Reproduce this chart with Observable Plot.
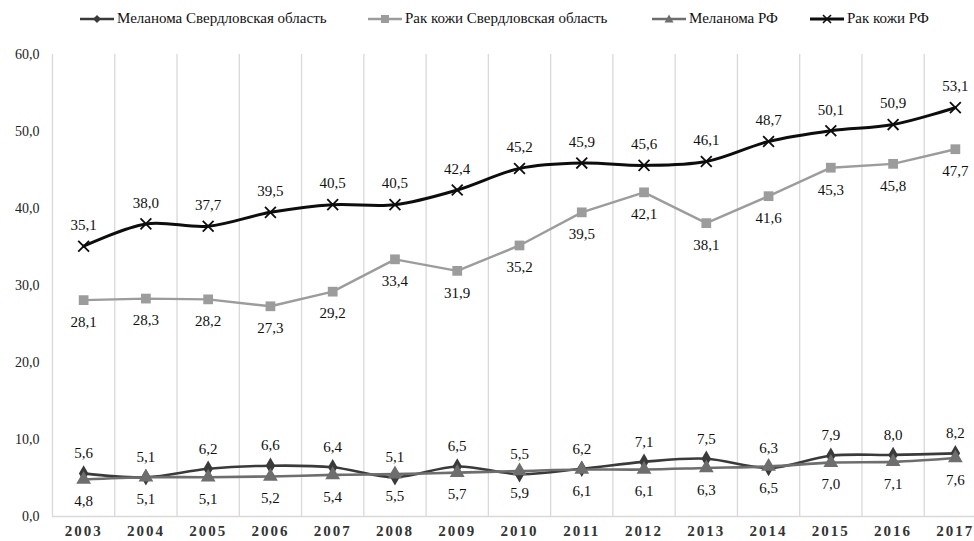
<!DOCTYPE html>
<html>
<head>
<meta charset="utf-8">
<script src="https://cdn.jsdelivr.net/npm/d3@7"></script>
<script src="https://cdn.jsdelivr.net/npm/@observablehq/plot@0.6"></script>
<style>
  html, body { margin: 0; padding: 0; background: #fff; overflow: hidden; }
  #wrap { position: relative; width: 974px; height: 541px; font-family: "Liberation Serif", "Times New Roman", "DejaVu Serif", serif; }
  #legend { position: relative; width: 974px; height: 40px; }
  .item { position: absolute; top: 10px; display: flex; align-items: center; font-family: "Liberation Serif", "Times New Roman", serif; font-size: 15px; color: #111; white-space: nowrap; }
  .item svg { margin-right: 3px; }
  #chart svg text { font-family: "Liberation Serif", "Times New Roman", serif; }
  #chart svg g[aria-label="x-axis tick label"] text { letter-spacing: 2px; }
</style>
</head>
<body>
<div id="wrap">
  <div id="legend"></div>
  <div id="chart"></div>
</div>
<script>
const years = [2003, 2004, 2005, 2006, 2007, 2008, 2009, 2010, 2011, 2012, 2013, 2014, 2015, 2016, 2017];
const melanomaSO = [5.6, 5.1, 6.2, 6.6, 6.4, 5.1, 6.5, 5.5, 6.2, 7.1, 7.5, 6.3, 7.9, 8.0, 8.2];
const skinSO = [28.1, 28.3, 28.2, 27.3, 29.2, 33.4, 31.9, 35.2, 39.5, 42.1, 38.1, 41.6, 45.3, 45.8, 47.7];
const melanomaRF = [4.8, 5.1, 5.1, 5.2, 5.4, 5.5, 5.7, 5.9, 6.1, 6.1, 6.3, 6.5, 7.0, 7.1, 7.6];
const skinRF = [35.1, 38.0, 37.7, 39.5, 40.5, 40.5, 42.4, 45.2, 45.9, 45.6, 46.1, 48.7, 50.1, 50.9, 53.1];
const yTicks = [0, 10, 20, 30, 40, 50, 60];
const seriesNames = ["Меланома Свердловская область", "Рак кожи Свердловская область", "Меланома РФ", "Рак кожи РФ"];

const fmt = d => d.toFixed(1).replace(".", ",");

const series = [
  {name: seriesNames[0], values: melanomaSO, color: "#3a3a3a", width: 2.6, symbol: "diamond", r: 5, fill: true, curve: "catmull-rom", dy: -20},
  {name: seriesNames[1], values: skinSO, color: "#9c9c9c", width: 2.4, symbol: "square", r: 5.5, fill: true, curve: "linear", dy: 22},
  {name: seriesNames[2], values: melanomaRF, color: "#6e6e6e", width: 2.6, symbol: "triangle", r: 5.5, fill: true, curve: "catmull-rom", dy: 22},
  {name: seriesNames[3], values: skinRF, color: "#0d0d0d", width: 3, symbol: "times", r: 5, fill: false, curve: "catmull-rom", dy: -21}
];

// Legend
const legend = document.getElementById("legend");
const legendLeft = [80, 368, 652, 810];
const legendMarker = {
  diamond: c => `<path d="M17,3 L21,7 L17,11 L13,7 Z" fill="${c}"/>`,
  square: c => `<rect x="13" y="3" width="8" height="8" fill="${c}"/>`,
  triangle: c => `<path d="M17,2.5 L21.5,10.5 L12.5,10.5 Z" fill="${c}"/>`,
  times: c => `<path d="M13,3 L21,11 M21,3 L13,11" stroke="${c}" stroke-width="1.6"/>`
};
series.forEach((s, i) => {
  const div = document.createElement("div");
  div.className = "item";
  div.style.left = legendLeft[i] + "px";
  div.innerHTML = `<svg width="34" height="14"><line x1="0" x2="34" y1="7" y2="7" stroke="${s.color}" stroke-width="${s.width}"/>${legendMarker[s.symbol](s.color)}</svg><span>${s.name}</span>`;
  legend.appendChild(div);
});

const rows = series.map(s => years.map((year, i) => ({year, value: s.values[i]})));
const boundaries = years.map(y => y - 0.5).concat([years[years.length - 1] + 0.5]);

const marks = [
  Plot.ruleX(boundaries, {x: d => d, y1: 0, y2: 60, stroke: "#d9d9d9", strokeWidth: 1.3}),
  Plot.ruleY([0], {stroke: "#d9d9d9", strokeWidth: 1.3}),
  Plot.axisY(yTicks, {tickSize: 0, tickPadding: 13, tickFormat: fmt, fontSize: 14, fill: "#222", label: null}),
  Plot.axisX(years, {tickSize: 0, tickPadding: 9, tickFormat: d => String(d), fontSize: 15, fontWeight: "bold", fill: "#333", label: null})
];
series.forEach((s, i) => {
  marks.push(Plot.line(rows[i], {x: "year", y: "value", stroke: s.color, strokeWidth: s.width, curve: s.curve}));
});
series.forEach((s, i) => {
  if (s.fill) {
    marks.push(Plot.dot(rows[i], {x: "year", y: "value", symbol: s.symbol, r: s.r, fill: s.color, stroke: "none"}));
  } else {
    marks.push(Plot.dot(rows[i], {x: "year", y: "value", symbol: s.symbol, r: s.r, stroke: s.color, strokeWidth: 1.8}));
  }
  marks.push(Plot.text(rows[i], {x: "year", y: "value", text: d => fmt(d.value), dy: s.dy, fontSize: 15, fill: "#111"}));
});

const chart = Plot.plot({
  width: 974,
  height: 501,
  marginTop: 14,
  marginBottom: 25,
  marginLeft: 52,
  marginRight: 0,
  style: {fontFamily: "'Liberation Serif', 'Times New Roman', serif", background: "#fff", overflow: "visible"},
  x: {domain: [2002.5, 2017.5], range: [52, 986], axis: null},
  y: {domain: [0, 60], axis: null},
  marks
});
document.getElementById("chart").appendChild(chart);
</script>
</body>
</html>
